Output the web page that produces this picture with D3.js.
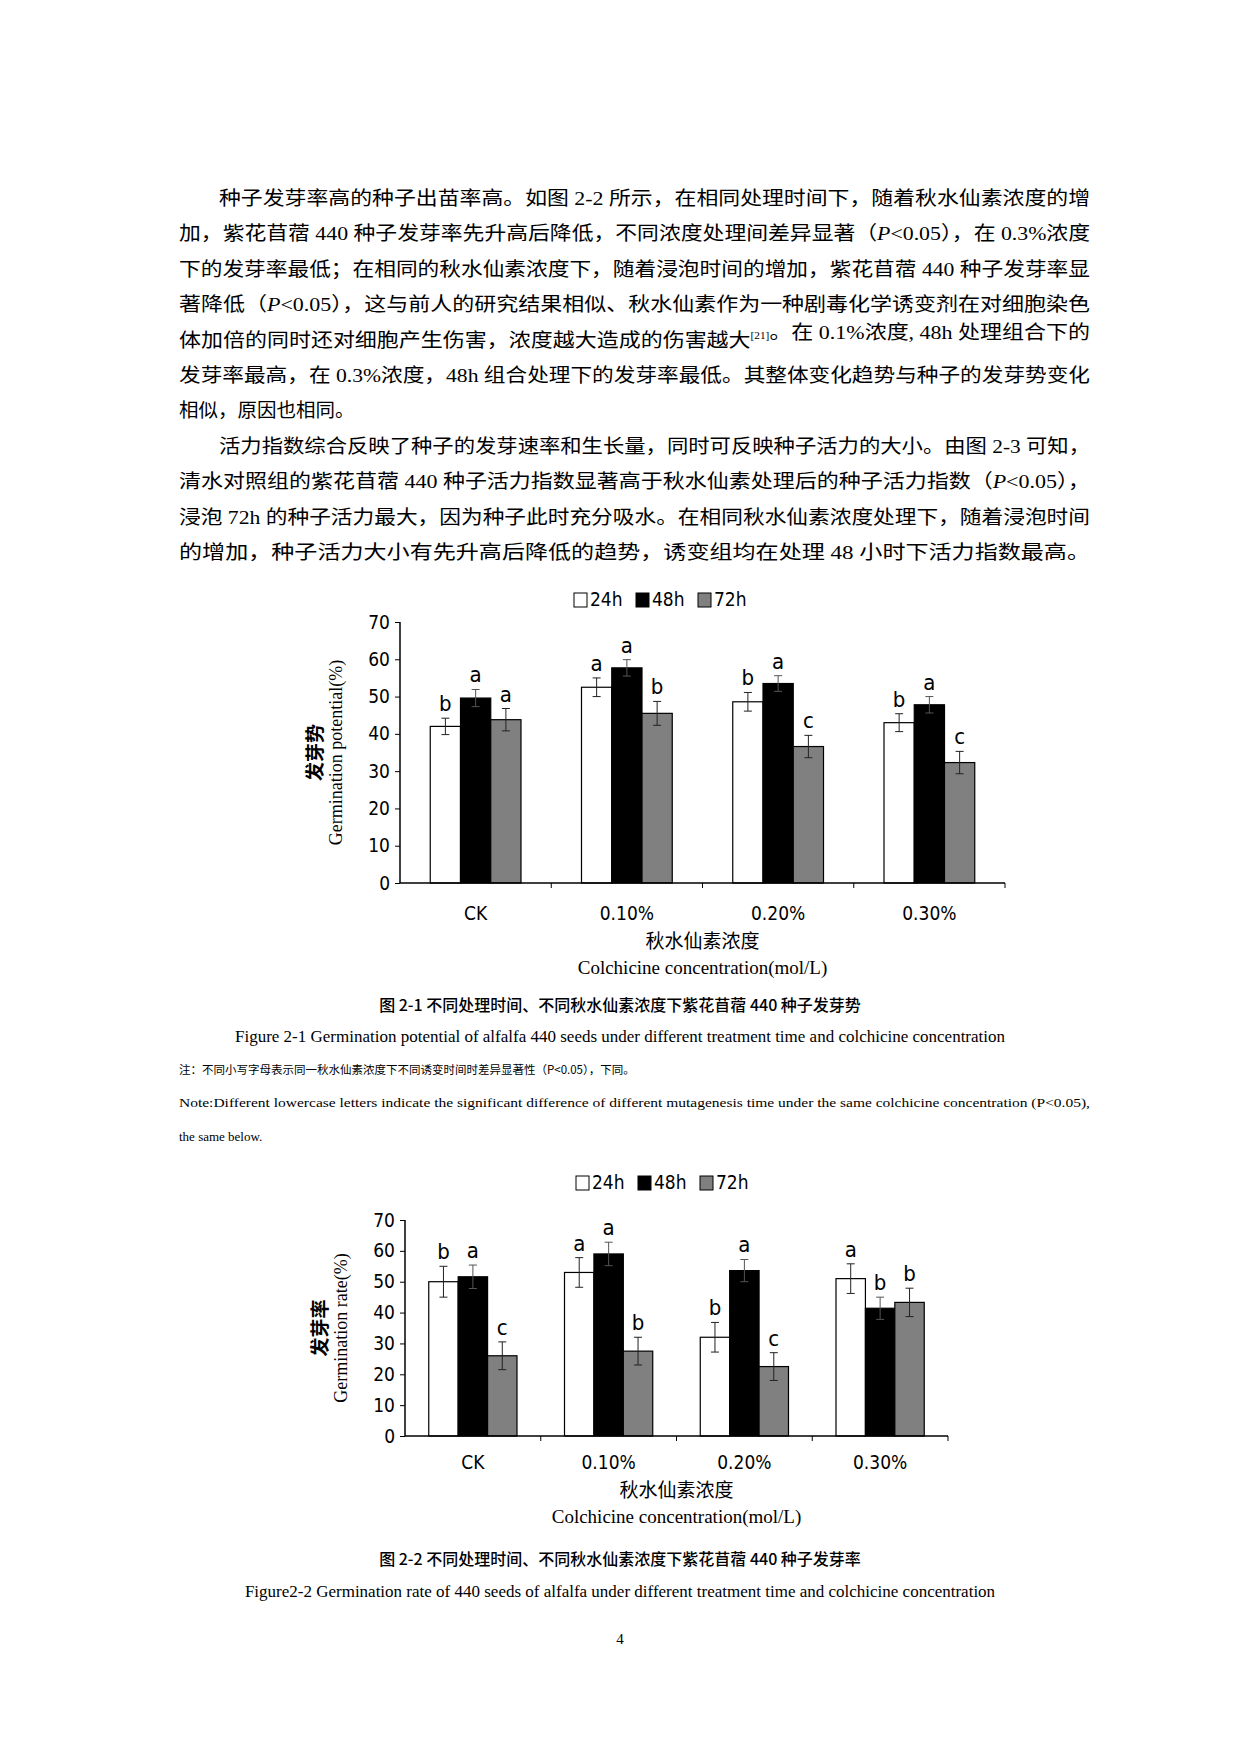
<!DOCTYPE html>
<html><head><meta charset="utf-8">
<script src="https://cdn.jsdelivr.net/npm/d3@7"></script>
<style>
body{margin:0;background:#fff}
svg{display:block}
</style></head>
<body>
<svg id="page" width="1240" height="1754"></svg>
<script>
// text of the page
const para = [
  "种子发芽率高的种子出苗率高。如图 2-2 所示，在相同处理时间下，随着秋水仙素浓度的增",
  "加，紫花苜蓿 440 种子发芽率先升高后降低，不同浓度处理间差异显著（P<0.05），在 0.3%浓度",
  "下的发芽率最低；在相同的秋水仙素浓度下，随着浸泡时间的增加，紫花苜蓿 440 种子发芽率显",
  "著降低（P<0.05），这与前人的研究结果相似、秋水仙素作为一种剧毒化学诱变剂在对细胞染色",
  "体加倍的同时还对细胞产生伤害，浓度越大造成的伤害越大[21]。在 0.1%浓度, 48h 处理组合下的",
  "发芽率最高，在 0.3%浓度，48h 组合处理下的发芽率最低。其整体变化趋势与种子的发芽势变化",
  "相似，原因也相同。",
  "活力指数综合反映了种子的发芽速率和生长量，同时可反映种子活力的大小。由图 2-3 可知，",
  "清水对照组的紫花苜蓿 440 种子活力指数显著高于秋水仙素处理后的种子活力指数（P<0.05），",
  "浸泡 72h 的种子活力最大，因为种子此时充分吸水。在相同秋水仙素浓度处理下，随着浸泡时间",
  "的增加，种子活力大小有先升高后降低的趋势，诱变组均在处理 48 小时下活力指数最高。"
];
const indentLines = [0, 7];

const categories = ["CK", "0.10%", "0.20%", "0.30%"];
const series = ["24h", "48h", "72h"];
const seriesFill = ["#ffffff", "#000000", "#808080"];
const yTicks = [0, 10, 20, 30, 40, 50, 60, 70];

// figure 2-1 germination potential
const gpValues = [[42.0, 49.6, 43.8], [52.5, 57.7, 45.5], [48.6, 53.5, 36.6], [43.0, 47.8, 32.3]];
const gpErrors = [[2.2, 2.3, 3.0], [2.5, 2.2, 3.2], [2.5, 2.1, 3.0], [2.4, 2.2, 3.0]];
const gpLetters = [["b", "a", "a"], ["a", "a", "b"], ["b", "a", "c"], ["b", "a", "c"]];

// figure 2-2 germination rate
const grValues = [[50.0, 51.6, 26.0], [53.0, 59.0, 27.5], [32.0, 53.6, 22.5], [51.0, 41.4, 43.3]];
const grErrors = [[5.0, 3.8, 4.5], [4.8, 3.8, 4.5], [4.8, 3.6, 4.5], [4.8, 3.6, 4.6]];
const grLetters = [["b", "a", "c"], ["a", "a", "b"], ["b", "a", "c"], ["a", "b", "b"]];

const serif = "'Liberation Serif','Noto Sans CJK SC',serif";
const sans = "'Liberation Sans Narrow','DejaVu Sans Condensed','Noto Sans CJK SC',sans-serif";

const svg = d3.select("#page");

// paragraph, with italic P
para.forEach((t, i) => {
  const y = 205 + i * 35.4;
  const x = indentLines.includes(i) ? 219 : 179;
  const txt = svg.append("text").attr("x", x).attr("y", y)
    .attr("font-family", serif).attr("font-size", 19.5);
  if (i !== 6) txt.attr("textLength", x === 219 ? 871 : 911).attr("lengthAdjust", "spacingAndGlyphs");
  t.split(/(\[21\]|P<)/).forEach(part => {
    if (part === "[21]") {
      txt.append("tspan").attr("dy", -8).attr("font-size", 10).text("[21]");
      txt.append("tspan").attr("dy", 8).text("");
    } else if (part === "P<") {
      txt.append("tspan").attr("font-style", "italic").text("P");
      txt.append("tspan").text("<");
    } else txt.append("tspan").text(part);
  });
});

function drawChart(cfg) {
  const x0 = d3.scaleBand().domain(categories).range([cfg.left, cfg.right]);
  const x1 = d3.scaleBand().domain(series).range([0, x0.bandwidth() * cfg.barFrac]);
  const pad = (x0.bandwidth() - x1.range()[1]) / 2;
  const y = d3.scaleLinear().domain([0, 70]).range([cfg.bottom, cfg.top]);
  const g = svg.append("g");

  // legend
  const lg = g.append("g").attr("transform", `translate(${cfg.legendX},${cfg.legendY})`);
  series.forEach((s, i) => {
    const lx = i * 62;
    lg.append("rect").attr("x", lx).attr("y", -13).attr("width", 13).attr("height", 14)
      .attr("fill", seriesFill[i]).attr("stroke", "#000");
    lg.append("text").attr("x", lx + 16).attr("y", 0).attr("font-family", sans)
      .attr("font-size", 19).text(s);
  });

  categories.forEach((c, ci) => {
    series.forEach((s, si) => {
      const v = cfg.values[ci][si], e = cfg.errors[ci][si];
      const bx = x0(c) + pad + x1(s);
      g.append("rect").attr("x", bx).attr("y", y(v)).attr("width", x1.bandwidth())
        .attr("height", y(0) - y(v)).attr("fill", seriesFill[si]).attr("stroke", "#000").attr("stroke-width", 1.2);
      const cx = bx + x1.bandwidth() / 2;
      const ec = si === 1 ? "#555" : "#222";
      g.append("line").attr("x1", cx).attr("x2", cx).attr("y1", y(v - e)).attr("y2", y(v + e)).attr("stroke", ec);
      [v - e, v + e].forEach(w => g.append("line").attr("x1", cx - 4).attr("x2", cx + 4)
        .attr("y1", y(w)).attr("y2", y(w)).attr("stroke", ec));
      g.append("text").attr("x", cx).attr("y", y(v + e) - 7).attr("text-anchor", "middle")
        .attr("font-family", sans).attr("font-size", 22).text(cfg.letters[ci][si]);
    });
  });

  const ya = d3.axisLeft(y).tickValues(yTicks).tickSize(5).tickFormat(d3.format("d"));
  const yg = g.append("g").attr("transform", `translate(${cfg.left},0)`).call(ya);
  yg.selectAll("text").attr("font-family", sans).attr("font-size", 19).attr("x", -10);
  yg.select(".domain").attr("d", `M0,${cfg.bottom}V${cfg.top}`).attr("stroke-width", 1.5);

  const xa = g.append("g").attr("transform", `translate(0,${cfg.bottom})`);
  xa.append("line").attr("x1", cfg.left).attr("x2", cfg.right).attr("stroke", "#000").attr("stroke-width", 1.5);
  categories.forEach(c => {
    xa.append("line").attr("x1", x0(c) + x0.bandwidth()).attr("x2", x0(c) + x0.bandwidth())
      .attr("y1", 0).attr("y2", 5).attr("stroke", "#000");
    xa.append("text").attr("x", x0(c) + x0.bandwidth() / 2).attr("y", cfg.catY - cfg.bottom)
      .attr("text-anchor", "middle").attr("font-family", sans).attr("font-size", 19).text(c);
  });

  const cx = (cfg.left + cfg.right) / 2;
  g.append("text").attr("x", cx).attr("y", cfg.catY + 28).attr("text-anchor", "middle")
    .attr("font-family", "'Noto Sans CJK SC',sans-serif").attr("font-size", 19).text("秋水仙素浓度");
  g.append("text").attr("x", cx).attr("y", cfg.catY + 54).attr("text-anchor", "middle")
    .attr("font-family", serif).attr("font-size", 19).text("Colchicine concentration(mol/L)");

  const my = (cfg.top + cfg.bottom) / 2;
  g.append("text").attr("transform", `translate(${cfg.left - 78},${my}) rotate(-90)`)
    .attr("text-anchor", "middle").attr("font-family", "'Noto Sans CJK SC',sans-serif")
    .attr("font-size", 19).attr("font-weight", "bold").text(cfg.yCn);
  g.append("text").attr("transform", `translate(${cfg.left - 58},${my}) rotate(-90)`)
    .attr("text-anchor", "middle").attr("font-family", serif).attr("font-size", 18).text(cfg.yEn);
}

drawChart({
  left: 400, right: 1005, top: 622, bottom: 883, barFrac: 0.6, catY: 920,
  legendX: 574, legendY: 606, values: gpValues, errors: gpErrors, letters: gpLetters,
  yCn: "发芽势", yEn: "Germination potential(%)"
});
drawChart({
  left: 405, right: 948, top: 1220, bottom: 1436, barFrac: 0.65, catY: 1469,
  legendX: 576, legendY: 1189, values: grValues, errors: grErrors, letters: grLetters,
  yCn: "发芽率", yEn: "Germination rate(%)"
});

function caption(t, yy, size, fam, weight) {
  svg.append("text").attr("x", 620).attr("y", yy).attr("text-anchor", "middle")
    .attr("font-family", fam).attr("font-size", size).attr("font-weight", weight || "normal").text(t);
}
caption("图 2-1  不同处理时间、不同秋水仙素浓度下紫花苜蓿 440 种子发芽势", 1011, 16, "'Noto Sans CJK SC',sans-serif", "500");
caption("Figure 2-1 Germination potential of alfalfa 440 seeds under different treatment time and colchicine concentration", 1042, 17, serif);
svg.append("text").attr("x", 179).attr("y", 1074).attr("font-family", "'Noto Sans CJK SC',sans-serif")
  .attr("font-size", 11.5).text("注：不同小写字母表示同一秋水仙素浓度下不同诱变时间时差异显著性（P<0.05），下同。");
svg.append("text").attr("x", 179).attr("y", 1107).attr("font-family", serif).attr("font-size", 13)
  .attr("textLength", 911).attr("lengthAdjust", "spacingAndGlyphs")
  .text("Note:Different lowercase letters indicate the significant difference of different mutagenesis time under the same colchicine concentration (P<0.05),");
svg.append("text").attr("x", 179).attr("y", 1141).attr("font-family", serif).attr("font-size", 13).text("the same below.");
caption("图 2-2  不同处理时间、不同秋水仙素浓度下紫花苜蓿 440 种子发芽率", 1565, 16, "'Noto Sans CJK SC',sans-serif", "500");
caption("Figure2-2 Germination rate of 440 seeds of alfalfa under different treatment time and colchicine concentration", 1597, 17, serif);
caption("4", 1644, 15, serif);
</script>
</body></html>
